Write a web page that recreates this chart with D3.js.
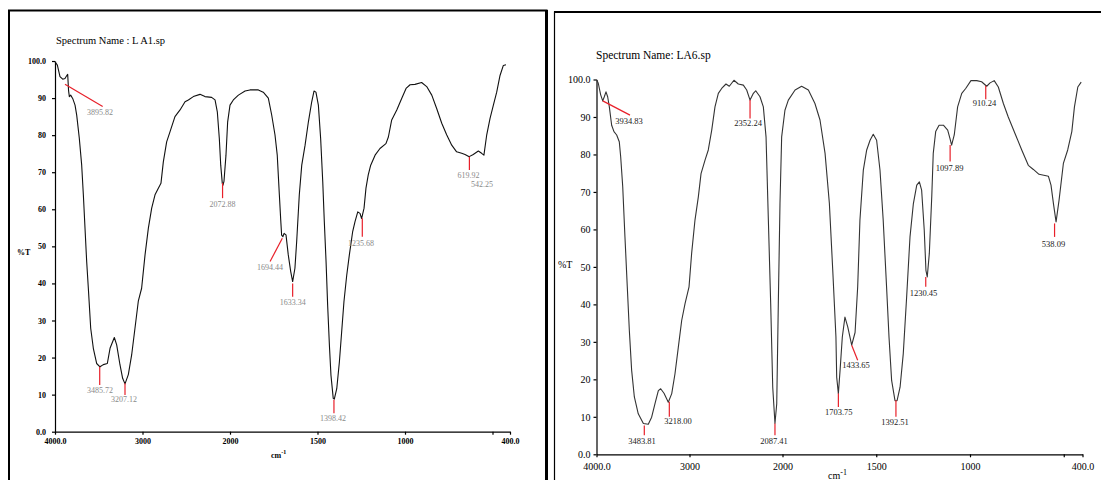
<!DOCTYPE html>
<html>
<head>
<meta charset="utf-8">
<script src="https://cdn.jsdelivr.net/npm/d3@7"></script>
<style>
  body { margin: 0; background: #fff; }
  svg { display: block; font-family: "Liberation Serif", "Times New Roman", serif; }
</style>
</head>
<body>
<div id="chart-area"></div>
<script>
// LA1 spectrum (left) : wavenumber (cm-1) and %T
var la1Wn = [4000,3973,3943,3912,3886,3867,3855,3845,3836,3821,3798,3771,3752,3722,3695,3676,3657,3638,3619,3592,
  3562,3524,3486,3448,3402,3371,3322,3295,3257,3227,3200,3162,3124,3086,3048,3010,2971,2933,2895,2857,
  2819,2789,2762,2724,2686,2629,2571,2514,2476,2419,2343,2286,2210,2171,2145,2122,2106,2088,2080,2069,
  2046,2027,2000,1981,1952,1914,1886,1838,1810,1781,1762,1743,1730,1718,1710,1705,1698,1691,1680,1667,
  1653,1642,1629,1619,1604,1590,1571,1552,1533,1520,1509,1495,1482,1470,1461,1451,1442,1432,1423,1410,
  1404,1390,1375,1362,1349,1333,1318,1299,1286,1270,1257,1248,1234,1223,1210,1196,1171,1143,1109,1095,
  1076,1047,1019,994,971,943,905,876,847,819,790,762,733,705,676,657,633,610,581,562,549,533,514,495,476,457,438,423];
var la1T = [99.8,98.9,95.8,95.1,95.3,96.0,96.4,92.0,90.4,90.8,89.9,88.1,85.4,79.1,71.9,63.9,54.9,45.9,38.7,27.9,
  22.5,18.4,17.5,18.1,18.4,22.5,25.4,23.4,18.0,14.4,12.9,15.4,20.7,27.9,35.2,38.7,47.7,54.9,60.3,63.9,
  65.7,67.0,72.8,78.2,80.9,85.0,86.8,89.0,89.5,90.4,91.0,90.4,90.2,89.5,86.3,79.1,71.9,67.0,66.5,67.5,
  74.6,83.5,88.1,89.5,90.8,91.9,92.2,92.2,91.6,90.0,85.5,80.1,74.6,63.9,57.0,53.0,52.6,53.5,53.1,47.7,
  43.2,40.5,44.1,51.3,63.9,71.9,77.3,83.6,89.0,91.9,91.6,88.1,79.1,67.4,56.6,45.8,34.1,23.3,15.2,9.0,
  8.8,11.6,18.8,26.9,35.0,42.2,47.7,54.0,56.6,59.3,58.9,57.5,60.3,65.7,69.3,71.9,74.6,76.4,77.7,79.5,
  84.1,86.8,89.9,92.6,93.6,93.7,94.2,93.1,90.8,87.2,83.2,80.1,77.3,75.5,75.1,74.8,74.2,74.8,75.7,75.1,74.6,80.1,84.5,88.1,91.6,96.1,98.8,99.0];

// LA1 peak markers: [line start wn, %T, line end wn, %T, text wn, text %T, label]
var la1Peaks = [
  [3886, 93.7, 3455, 87.7, 3486, 85.4, "3895.82"],
  [3489, 17.5, 3489, 12.6, 3486, 10.4, "3485.72"],
  [3200, 13.1, 3200, 9.9, 3211, 8.0, "3207.12"],
  [2085, 67.1, 2085, 63.0, 2086, 60.6, "2072.88"],
  [1701, 52.2, 1771, 45.9, 1771, 43.7, "1694.44"],
  [1642, 40.0, 1642, 36.4, 1642, 34.3, "1633.34"],
  [1406, 8.6, 1406, 5.0, 1411, 2.8, "1398.42"],
  [1244, 57.6, 1244, 52.6, 1251, 50.2, "1235.68"],
  [632, 74.2, 632, 70.6, 637, 68.4, "619.92"],
  [null, null, null, null, 560, 65.9, "542.25"]
];

// LA6 spectrum (right)
var la6Wn = [4000,3981,3955,3933,3916,3898,3880,3862,3837,3812,3783,3755,3740,3718,3694,3669,3647,3622,3593,3551,
  3496,3443,3407,3371,3335,3310,3274,3228,3191,3156,3120,3084,3048,3005,2977,2941,2905,2876,2833,2798,
  2761,2726,2690,2654,2608,2572,2522,2475,2421,2385,2349,2313,2288,2242,2206,2177,2152,2127,2105,2081,
  2062,2045,2027,2009,1987,1969,1933,1898,1862,1827,1800,1773,1750,1732,1715,1711,1702,1693,1681,1667,
  1652,1631,1613,1599,1587,1569,1551,1533,1516,1498,1480,1463,1445,1432,1418,1400,1389,1373,1356,1338,
  1320,1302,1284,1270,1258,1244,1235,1228,1217,1204,1196,1183,1165,1142,1119,1107,1098,1084,1066,1044,
  1023,995,964,938,911,893,871,849,822,796,760,724,689,662,632,600,582,568,555,541,525,502,479,457,443,425,407];
var la6T = [100,99.0,95.9,94.3,95.4,96.7,95.4,92.7,87.8,86.1,85.2,83.4,79.4,71.4,58.0,44.7,33.1,22.4,15.3,10.8,
  8.2,8.0,9.9,13.5,17.0,17.5,16.3,13.9,16.2,21.5,28.6,35.7,40.2,44.7,53.6,62.5,68.7,74.9,78.5,81.2,
  86.5,92.7,96.3,97.6,98.8,98.2,99.8,98.8,98.5,97.2,94.5,96.3,97.0,95.4,92.7,84.7,62.5,40.2,17.9,8.2,
  13.5,40.2,66.9,84.7,91.8,94.5,97.2,98.2,97.2,93.6,89.2,80.3,66.9,49.1,31.3,20.6,16.2,22.4,31.3,36.6,
  34.0,29.1,32.5,44.7,62.5,75.8,81.2,83.8,85.4,83.8,75.8,62.5,44.7,31.3,19.7,14.3,14.3,17.9,26.8,41.9,
  58.0,66.9,71.8,72.7,70.5,59.8,49.1,47.3,53.6,68.7,80.3,86.1,87.8,87.8,86.5,84.3,82.5,85.2,92.7,96.3,
  97.6,99.7,99.7,99.4,98.2,99.1,99.7,98.0,93.6,90.0,85.6,81.2,77.1,76.0,74.7,74.4,74.2,71.8,66.9,62.0,67.8,77.6,81.2,86.1,92.7,98.0,99.3];

var la6Peaks = [
  [3933, 94.3, 3640, 90.5, 3651, 88.1, "3934.83"],
  [2349, 94.5, 2349, 89.6, 2370, 87.5, "2352.24"],
  [3486, 7.7, 3486, 5.1, 3511, 2.7, "3483.81"],
  [3217, 14.0, 3217, 10.0, 3124, 8.0, "3218.00"],
  [2081, 8.2, 2081, 5.1, 2091, 2.7, "2087.41"],
  [1702, 16.2, 1702, 12.6, 1700, 10.4, "1703.75"],
  [1631, 29.1, 1599, 25.1, 1608, 23.0, "1433.65"],
  [1395, 14.4, 1395, 10.0, 1400, 7.7, "1392.51"],
  [1236, 47.3, 1236, 44.7, 1248, 42.2, "1230.45"],
  [1106, 82.5, 1106, 78.1, 1109, 75.7, "1097.89"],
  [916, 98.3, 916, 94.7, 923, 92.8, "910.24"],
  [549, 61.6, 549, 58.0, 555, 55.4, "538.09"]
];

var xTickValues = [4000, 3000, 2000, 1500, 1000, 500, 400];
var xTickLabels = ["4000.0", "3000", "2000", "1500", "1000", "", "400.0"];
var yTickValues = [0, 10, 20, 30, 40, 50, 60, 70, 80, 90, 100];
var yTickLabels = ["0.0", "10", "20", "30", "40", "50", "60", "70", "80", "90", "100.0"];

var svg = d3.select("#chart-area")
  .append("svg")
    .attr("width", 1101)
    .attr("height", 480);

svg.append("rect").attr("width", 1101).attr("height", 480).attr("fill", "#fff");

// panel frames
svg.append("path")
  .attr("d", "M9,490 V10.5 H546.5 V490")
  .attr("fill", "none").attr("stroke", "#000").attr("stroke-width", 2);
svg.append("line")
  .attr("x1", 546.5).attr("x2", 546.5).attr("y1", 10).attr("y2", 480)
  .attr("stroke", "#000").attr("stroke-width", 3);
svg.append("path")
  .attr("d", "M554.5,490 V12 H1110")
  .attr("fill", "none").attr("stroke", "#000").attr("stroke-width", 1.2);
svg.append("line")
  .attr("x1", 554).attr("x2", 1101).attr("y1", 12).attr("y2", 12)
  .attr("stroke", "#000").attr("stroke-width", 2);

function drawPanel(cfg) {
  var x = d3.scaleLinear().domain([4000, 2000, 400]).range(cfg.xRange);
  var y = d3.scaleLinear().domain([0, 100]).range(cfg.yRange);
  var g = svg.append("g");

  // title
  g.append("text")
    .attr("x", cfg.title[1]).attr("y", cfg.title[2])
    .attr("font-size", cfg.titleSize + "px")
    .attr("fill", "#000")
    .text(cfg.title[0]);

  // axes
  var xAxis = d3.axisBottom(x)
    .tickValues(xTickValues)
    .tickSize(3).tickSizeOuter(0)
    .tickPadding(cfg.xPad)
    .tickFormat(function(d, i) { return xTickLabels[i]; });
  var xg = g.append("g")
    .attr("transform", "translate(0," + cfg.yRange[0] + ")")
    .call(xAxis);

  var yAxis = d3.axisLeft(y)
    .tickValues(yTickValues)
    .tickSize(3).tickSizeOuter(0)
    .tickPadding(cfg.yPad)
    .tickFormat(function(d, i) { return yTickLabels[i]; });
  var yg = g.append("g")
    .attr("transform", "translate(" + cfg.xRange[0] + ",0)")
    .call(yAxis);

  [xg, yg].forEach(function(ax) {
    ax.attr("font-family", null).attr("font-size", null);
    ax.selectAll("path, line").attr("stroke", "#000").attr("stroke-width", 1.2);
    ax.selectAll("text")
      .attr("font-size", cfg.tickSize + "px")
      .attr("font-weight", cfg.tickWeight)
      .attr("fill", "#000");
  });

  // axis titles
  g.append("text")
    .attr("x", cfg.yTitle[0]).attr("y", cfg.yTitle[1])
    .attr("font-size", cfg.tickSize + "px")
    .attr("font-weight", cfg.tickWeight)
    .text("%T");
  var xt = g.append("text")
    .attr("x", cfg.xTitle[0]).attr("y", cfg.xTitle[1])
    .attr("font-size", cfg.tickSize + "px")
    .attr("font-weight", cfg.tickWeight)
    .text("cm");
  xt.append("tspan").attr("dy", -4).attr("font-size", (cfg.tickSize - 2) + "px").text("-1");

  // spectrum
  var line = d3.line()
    .x(function(d) { return x(d[0]); })
    .y(function(d) { return y(d[1]); });
  g.append("path")
    .datum(cfg.wn.map(function(w, i) { return [w, cfg.t[i]]; }))
    .attr("d", line)
    .attr("fill", "none")
    .attr("stroke", cfg.lineColor)
    .attr("stroke-width", 1.1)
    .attr("stroke-linejoin", "round");

  // peak markers
  var pk = g.selectAll(".peak").data(cfg.peaks).enter().append("g").attr("class", "peak");
  pk.filter(function(d) { return d[0] !== null; })
    .append("line")
      .attr("x1", function(d) { return x(d[0]); })
      .attr("y1", function(d) { return y(d[1]); })
      .attr("x2", function(d) { return x(d[2]); })
      .attr("y2", function(d) { return y(d[3]); })
      .attr("stroke", "#e8202a")
      .attr("stroke-width", 1.2);
  pk.append("text")
    .attr("x", function(d) { return x(d[4]); })
    .attr("y", function(d) { return y(d[5]); })
    .attr("text-anchor", "middle")
    .attr("font-size", cfg.peakSize + "px")
    .attr("fill", cfg.peakColor)
    .text(function(d) { return d[6]; });
}

drawPanel({
  xRange: [55, 230, 510], yRange: [431.7, 61],
  wn: la1Wn, t: la1T, peaks: la1Peaks,
  title: ["Spectrum Name : L A1.sp", 56, 44], titleSize: 10.5,
  tickSize: 8, tickWeight: "bold", xPad: 4, yPad: 6,
  yTitle: [17, 255], xTitle: [271, 458],
  lineColor: "#111", peakColor: "#8a8a8a", peakSize: 8
});

drawPanel({
  xRange: [596.5, 782.5, 1082.5], yRange: [454.3, 79.5],
  wn: la6Wn, t: la6T, peaks: la6Peaks,
  title: ["Spectrum Name: LA6.sp", 596, 59], titleSize: 11.5,
  tickSize: 10, tickWeight: "normal", xPad: 5.5, yPad: 3,
  yTitle: [558, 268], xTitle: [828, 479],
  lineColor: "#333", peakColor: "#222", peakSize: 8.5
});
</script>
</body>
</html>
